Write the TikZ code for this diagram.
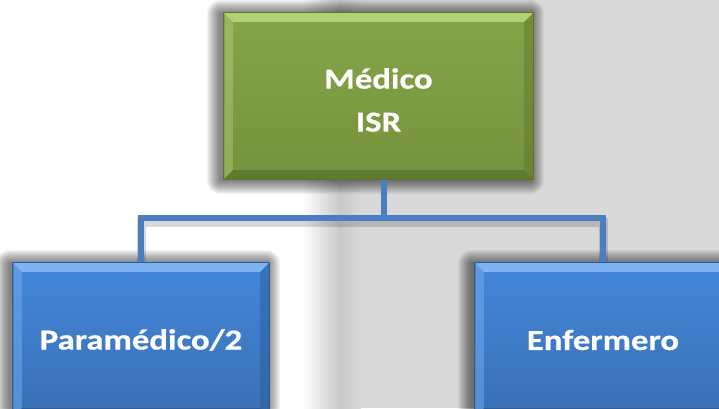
\documentclass[tikz,border=0pt]{standalone}
\usepackage{fontspec}
\setmainfont{Carlito}[BoldFeatures={FakeStretch=1.2,FakeBold=0.5}]
\usetikzlibrary{calc}
\definecolor{bggray}{HTML}{D9D9D9}
\definecolor{bandgray}{HTML}{C9C9C9}
\definecolor{grtop}{HTML}{86A54A}
\definecolor{grbot}{HTML}{76923C}
\definecolor{grlight}{HTML}{B3D178}
\definecolor{grdark}{HTML}{5B742C}
\definecolor{bltop}{HTML}{4587D9}
\definecolor{blbot}{HTML}{3A6FB6}
\definecolor{bllight}{HTML}{7DB3F2}
\definecolor{bldark}{HTML}{2B5896}
\definecolor{connblue}{HTML}{4A7EC0}
\pgfdeclarelayer{back}
\pgfdeclarelayer{shadowlayer}
\pgfsetlayers{back,shadowlayer,main}
\newcommand\bevelbox[3]{%
  \fill[#2] (#1.north west) -- (#1.north east) -- ($(#1.north east)+(-9,9)$) -- ($(#1.north west)+(9,9)$) -- cycle;
  \fill[#2,opacity=0.45] (#1.north west) -- ($(#1.north west)+(9,9)$) -- ($(#1.south west)+(9,-9)$) -- (#1.south west) -- cycle;
  \fill[#3,opacity=0.45] (#1.north east) -- ($(#1.north east)+(-9,9)$) -- ($(#1.south east)+(-9,-9)$) -- (#1.south east) -- cycle;
  \fill[#3,opacity=0.8] (#1.south west) -- ($(#1.south west)+(9,-9)$) -- ($(#1.south east)+(-9,-9)$) -- (#1.south east) -- cycle;
  \draw[#3,line width=1pt] (#1.north west) rectangle (#1.south east);
}
\newcommand\softshadow[1]{%
  \foreach \s in {1,...,14}{%
    \fill[black,opacity=0.045,rounded corners=\s pt] ($(#1.north west)+(-\s-3,-\s+1)$) rectangle ($(#1.south east)+(\s-3,\s+1)$);
  }%
}
\newcommand\lowline[1]{\raisebox{-4pt}[\height][\depth]{#1}}
\begin{document}
\begin{tikzpicture}[x=1pt,y=-1pt,
  boxbase/.style={rectangle, inner sep=0pt, text=white,
    font=\fontsize{29}{43}\selectfont\bfseries, align=center},
  greenbox/.style={boxbase, top color=grtop, bottom color=grbot, draw=grdark,
    minimum width=309pt, minimum height=166pt},
  bluebox/.style={boxbase, top color=bltop, bottom color=blbot, draw=bldark,
    minimum width=256pt, minimum height=154pt},
  conn/.style={connblue, line width=6pt},
  connshadow/.style={black, opacity=0.15, line width=9pt}]
\useasboundingbox (0,0) rectangle (719,408);
% background
\begin{pgfonlayer}{back}
\fill[white] (0,0) rectangle (719,408);
\fill[bggray] (360,0) rectangle (719,408);
\shade[left color=white, right color=bandgray] (302,0) rectangle (340,408);
\shade[left color=bandgray, right color=bggray] (340,0) rectangle (361,408);
\end{pgfonlayer}
% junction
\coordinate (bus) at (384,218);
% nodes
\node[greenbox] (medico) at (378.5,96) {\lowline{Médico}\\\lowline{ISR}};
\node[bluebox] (para) at (141,340) {Paramédico/2};
\node[bluebox] (enf) at (603,340) {Enfermero};
% shadows
\begin{pgfonlayer}{shadowlayer}
\softshadow{medico}
\softshadow{para}
\softshadow{enf}
\draw[connshadow] ($(para.north)+(0,-2)$) |- ($(bus)+(0,4)$) -| ($(enf.north)+(0,-2)$);
\end{pgfonlayer}
% connectors
\draw[conn] (medico.south -| bus) -- (bus);
\draw[conn] (para.north) |- (bus) -| (enf.north);
% bevels
\bevelbox{medico}{grlight}{grdark}
\bevelbox{para}{bllight}{bldark}
\bevelbox{enf}{bllight}{bldark}
\end{tikzpicture}
\end{document}
